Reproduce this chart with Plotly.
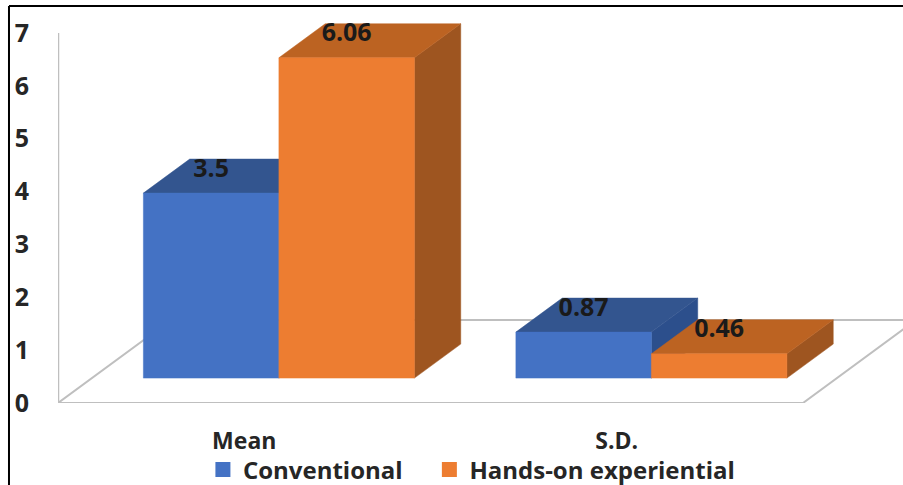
import plotly.graph_objects as go

# Chart data
categories = ["Mean", "S.D."]
series_names = ["Conventional", "Hands-on experiential"]
conventional = [3.5, 0.87]
hands_on = [6.06, 0.46]
y_ticks = [0, 1, 2, 3, 4, 5, 6, 7]

# Face colours for each series: front, top, side
blue = dict(front="#4472C4", top="#33558F", side="#2C4F8C")
orange = dict(front="#ED7D31", top="#BC6322", side="#9E5520")

# Oblique projection: depth 0 is the front floor edge, depth 1 the back edge
DEPTH_X = 0.3034
DEPTH_Y = 1.57
BAR_NEAR = 0.30
BAR_FAR = 0.71
BAR_WIDTH = 0.3638
GROUP_SHIFT = 0.002
LABEL_DEPTH = 0.275

FONT = "Open Sans"
TEXT = "#262626"
FLOOR = "#BFBFBF"


def project(x, y, depth):
    return x + depth * DEPTH_X, y + depth * DEPTH_Y


def polygon(corners):
    xs, ys = [], []
    for x, y, depth in corners:
        px, py = project(x, y, depth)
        xs.append(px)
        ys.append(py)
    xs += [xs[0], None]
    ys += [ys[0], None]
    return xs, ys


def face_trace(polys, colour):
    xs, ys = [], []
    for corners in polys:
        px, py = polygon(corners)
        xs += px
        ys += py
    return go.Scatter(
        x=xs, y=ys, mode="lines", fill="toself", fillcolor=colour,
        line=dict(width=0.5, color=colour), hoverinfo="skip", showlegend=False,
    )


fig = go.Figure()

# Floor outline and the vertical wall edge
x_lo, x_hi = -0.5, 1.5
floor_path = [(x_lo, 0, 0), (x_hi, 0, 0), (x_hi, 0, 1), (x_lo, 0, 1), (x_lo, 0, 0)]
fx, fy = zip(*(project(*p) for p in floor_path))
fig.add_trace(go.Scatter(x=fx, y=fy, mode="lines", line=dict(color=FLOOR, width=2),
                         hoverinfo="skip", showlegend=False))
fig.add_trace(go.Scatter(x=[x_lo, x_lo], y=[0, y_ticks[-1]], mode="lines",
                         line=dict(color=FLOOR, width=2.5),
                         hoverinfo="skip", showlegend=False))

# Bars, drawn back-to-front for each series
label_x, label_y, label_text = [], [], []
for s, (values, colours) in enumerate(((conventional, blue), (hands_on, orange))):
    tops, sides, fronts = [], [], []
    for c, value in enumerate(values):
        left = c - BAR_WIDTH + s * BAR_WIDTH + GROUP_SHIFT
        right = left + BAR_WIDTH
        fronts.append([(left, 0, BAR_NEAR), (right, 0, BAR_NEAR),
                       (right, value, BAR_NEAR), (left, value, BAR_NEAR)])
        tops.append([(left, value, BAR_NEAR), (right, value, BAR_NEAR),
                     (right, value, BAR_FAR), (left, value, BAR_FAR)])
        sides.append([(right, 0, BAR_NEAR), (right, value, BAR_NEAR),
                      (right, value, BAR_FAR), (right, 0, BAR_FAR)])
        cx, _ = project((left + right) / 2, value, BAR_NEAR)
        _, cy = project(0, value, BAR_NEAR + LABEL_DEPTH)
        label_x.append(cx)
        label_y.append(cy)
        label_text.append(str(value))
    fig.add_trace(face_trace(sides, colours["side"]))
    fig.add_trace(face_trace(tops, colours["top"]))
    fig.add_trace(face_trace(fronts, colours["front"]))

# Value labels sit on the top faces
fig.add_trace(go.Scatter(x=label_x, y=label_y, text=label_text, mode="text",
                         textposition="middle center",
                         textfont=dict(family=FONT, size=25, color="#1a1a1a", weight=700),
                         hoverinfo="skip", showlegend=False))

# Legend entries, one legend per series so each can be placed on its own
for name, colours, legend_id in zip(series_names, (blue, orange), ("legend", "legend2")):
    fig.add_trace(go.Scatter(x=[None], y=[None], mode="markers", name=name, legend=legend_id,
                             showlegend=True,
                             marker=dict(symbol="square", size=15, color=colours["front"])))

border = dict(color="#000000", width=2)
legend_style = dict(yanchor="middle", xanchor="left", y=-0.166,
                    font=dict(family=FONT, size=24, color=TEXT, weight=700),
                    bgcolor="rgba(0,0,0,0)", itemclick=False, itemdoubleclick=False)
fig.update_layout(
    width=903, height=485,
    margin=dict(l=58, r=0, t=0, b=82, autoexpand=False),
    paper_bgcolor="white", plot_bgcolor="white",
    xaxis=dict(range=[-0.5, 1.7685], tickvals=[0, 1], ticktext=categories,
               showgrid=False, zeroline=False, showline=False,
               ticks="outside", ticklen=17, tickcolor="rgba(0,0,0,0)",
               tickfont=dict(family=FONT, size=23, color=TEXT, weight=700)),
    yaxis=dict(range=[0, 7.624], tickvals=y_ticks,
               showgrid=False, zeroline=False, showline=False,
               ticks="outside", ticklen=23, tickcolor="rgba(0,0,0,0)",
               tickfont=dict(family=FONT, size=25, color=TEXT, weight=700)),
    legend=dict(x=0.1715, **legend_style),
    legend2=dict(x=0.4395, **legend_style),
    shapes=[
        dict(type="line", xref="paper", yref="paper", x0=-0.058, x1=1.0, y0=0.985, y1=0.985, line=border),
        dict(type="line", xref="paper", yref="paper", x0=-0.058, x1=-0.058, y0=0.985, y1=-0.21, line=border),
    ],
)

fig.write_html("out.html", config=dict(displayModeBar=False))
